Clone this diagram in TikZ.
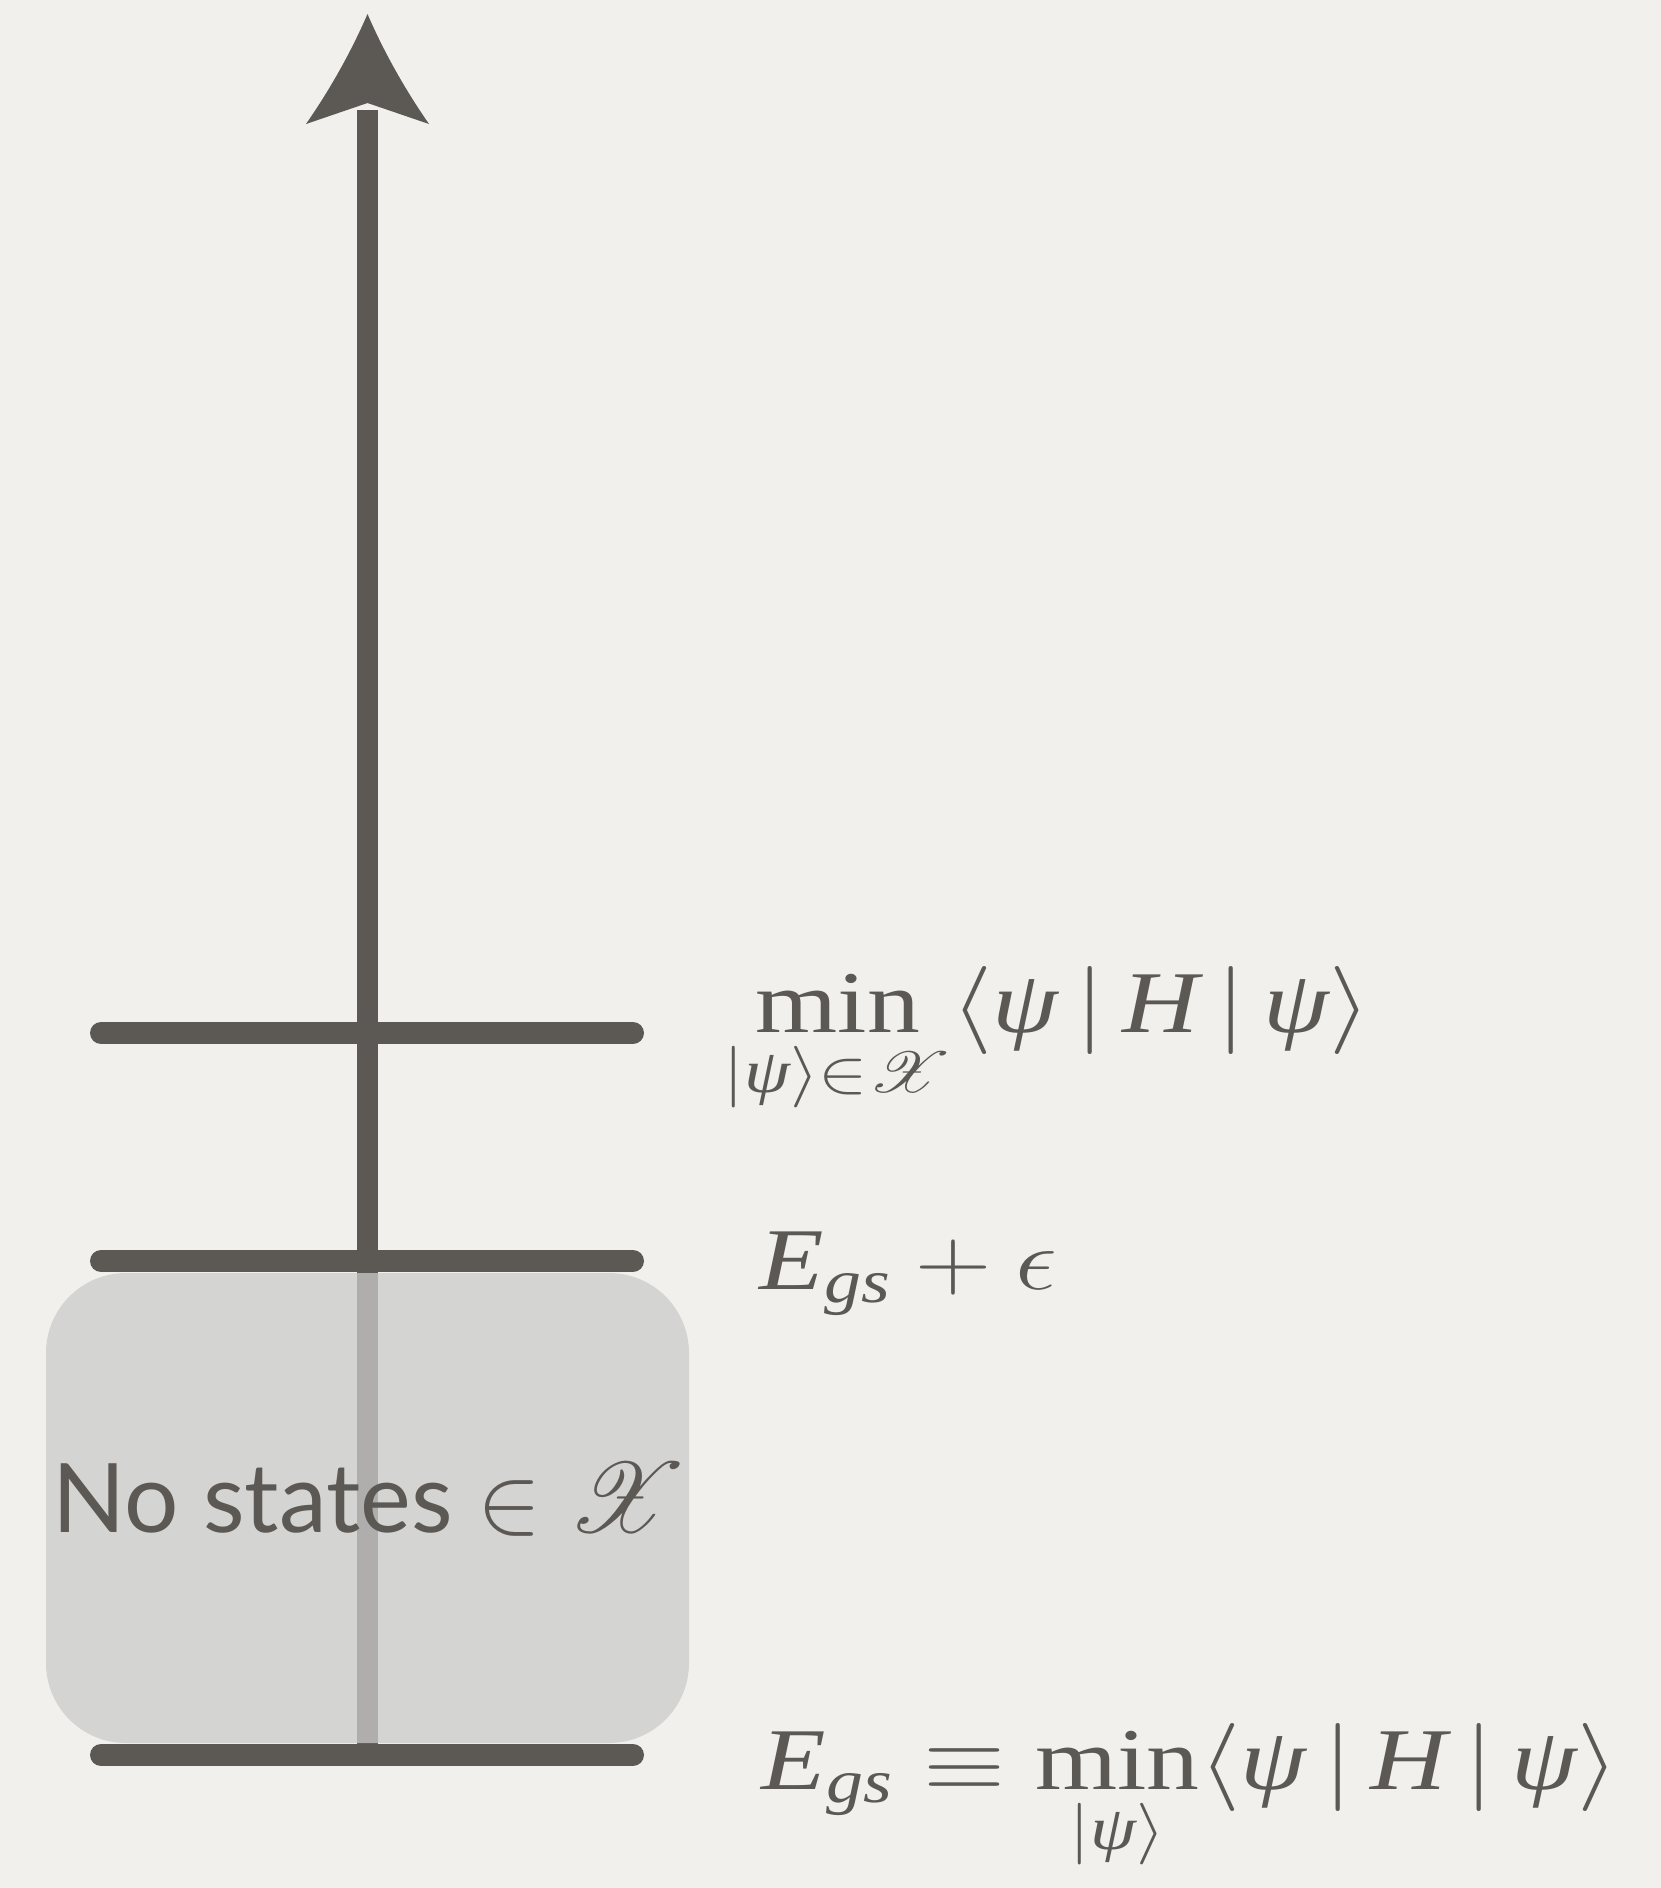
\documentclass[tikz,border=0pt]{standalone}
\usepackage{fix-cm}
\usepackage{amsmath}
\usepackage{mathrsfs}
\usepackage{fontspec}
\setmainfont{Liberation Serif}
\newfontfamily\rotulo{Lato}
\usetikzlibrary{positioning,arrows.meta}
\definecolor{fondo}{HTML}{F1F0EC}
\definecolor{tinta}{HTML}{5C5954}
\definecolor{velo}{HTML}{CBCBCB}
\newcommand{\ti}[1]{\text{\itshape #1}}
\newcommand{\ancho}[1]{\scalebox{1.2}[1]{#1}}

\begin{document}
\begin{tikzpicture}[
  x=0.25pt, y=-0.25pt,
  nivel/.style={tinta, line width=5.5pt, line cap=round},
  eje/.style={tinta, line width=5.3pt},
  caja/.style={rectangle, rounded corners=20pt, fill=velo, fill opacity=0.75, text opacity=1,
    minimum width=160.75pt, minimum height=117.5pt, inner sep=0pt},
  formula/.style={anchor=base west, inner sep=0pt, text=tinta, font=\fontsize{22}{26}\selectfont}]
  \useasboundingbox[fill=fondo] (0,0) rectangle (1661,1888);
  % eje de energias
  \coordinate (suelo) at (367.5,1755);
  \coordinate (cuello) at (367.5,110);
  \coordinate (cima) at (367.5,14);
  \draw[eje] (suelo) -- (cuello);
  \fill[tinta] (cima) .. controls (352,50) and (331,88) .. (306,124) -- (367.5,103)
    -- (429,124) .. controls (404,88) and (383,50) .. (cima);
  % zona sin estados
  \node[caja] (hueco) at (367.5,1508) {};
  \node[text=tinta, font=\rotulo\fontsize{24}{28}\selectfont, anchor=base, inner sep=0pt] (aviso) at (370,1532) {No states $\in\mathscr{X}$};
  % niveles
  \foreach \nombre/\y in {prueba/1033, umbral/1261, base/1755} {
    \coordinate (\nombre-i) at (101,\y);
    \coordinate (\nombre-d) at (633,\y);
    \draw[nivel] (\nombre-i) -- (\nombre-d);
  }
  % etiquetas
  \node[formula] (minX) at (723,1032) {\ancho{$\displaystyle\min_{|\ti{ψ}\rangle\in\mathscr{X}}\langle\ti{ψ}\,|\,\ti{H}\,|\,\ti{ψ}\rangle$}};
  \node[formula] (margen) at (759,1289) {\ancho{$\ti{E}_{\ti{gs}}+\epsilon$}};
  \node[formula] (egs) at (761,1789) {\ancho{$\displaystyle\ti{E}_{\ti{gs}}\equiv\min_{|\ti{ψ}\rangle}\langle\ti{ψ}\,|\,\ti{H}\,|\,\ti{ψ}\rangle$}};
\end{tikzpicture}
\end{document}
